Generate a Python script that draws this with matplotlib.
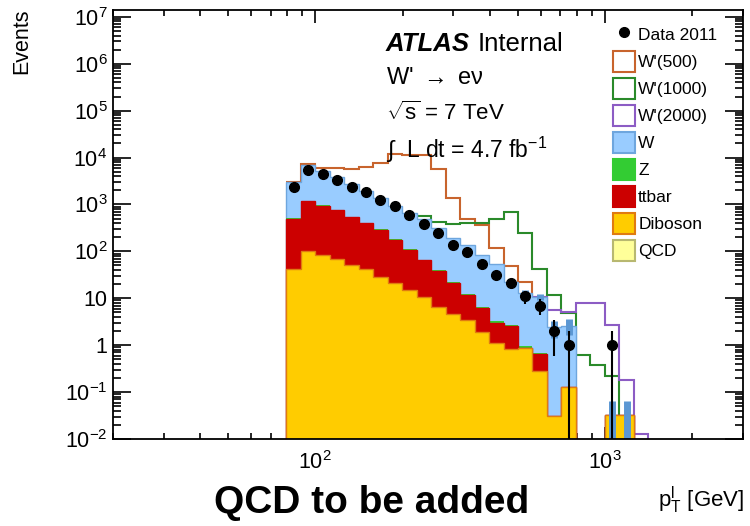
import numpy as np
import matplotlib
matplotlib.use("Agg")
import matplotlib.pyplot as plt
from matplotlib.patches import Patch
from matplotlib.lines import Line2D
from matplotlib.ticker import FixedLocator, NullFormatter, FuncFormatter

plt.rcParams["font.family"] = ["Liberation Sans", "DejaVu Sans"]
plt.rcParams["mathtext.fontset"] = "custom"
plt.rcParams["mathtext.rm"] = "Liberation Sans"
plt.rcParams["mathtext.it"] = "Liberation Sans:italic"
plt.rcParams["mathtext.bf"] = "Liberation Sans:bold"

# pT bins: 0.05 wide in log10, starting at 10^1.9 GeV
edges = 10 ** (1.9 + 0.05 * np.arange(27))

data = [2310, 5320, 4460, 3250, 2350, 1840, 1240, 906, 603, 382, 252, 136, 99,
        53, 32, 21, 11, 7, 2, 1, 0, 0, 1, 0, 0, 0]

diboson = [41.8, 103, 84.5, 68.4, 51.7, 41.8, 29.1, 21, 15.1, 10.4, 6.65, 4.58, 3.46,
           1.95, 1.10, 0.82, 0.89, 0.287, 0.031, 0.131, 0, 0, 0.0325, 0.0325, 0, 0]
ttbar = [453, 1057, 854, 677, 486, 359, 259, 156, 93, 54, 31.9, 16.9, 8.5,
         4.2, 1.9, 1.76, 0, 0.36, 0, 0, 0, 0, 0, 0, 0, 0]
zjets = [12, 28, 22, 16, 11, 8, 6, 4, 2.7, 1.9, 1.2, 0.8, 0.55,
         0.3, 0.2, 0.1, 0.05, 0.04, 0, 0, 0, 0, 0, 0, 0, 0]
wjets = [2443, 5842, 4280, 3139, 2221, 1551, 1096, 757, 554, 422, 273, 170, 125,
         78, 50.3, 19.7, 12.0, 10.2, 2.37, 2.47, 0, 0, 0, 0, 0, 0]
mc_err = [0, 0, 0, 0, 0, 0, 0, 0, 0, 0, 0, 0, 0,
          0, 0, 2.5, 1.8, 1.6, 0.95, 0.95, 0, 0, 0.033, 0.033, 0, 0]

# signal curves are drawn stacked on the SM; nan = hidden under the SM stack
nan = np.nan
wp500 = [3000, 7150, 5980, 5980, 5690, 6280, 7640, 12000, 11500, 11500, 5780, 1370, 495,
         369, 117, 49.2, 22.7, 10.5, nan, nan, nan, nan, nan, nan, nan, nan]
wp1000 = [nan, nan, nan, nan, nan, nan, nan, nan, nan, 555, 413, 387, 397,
          397, 488, 675, 249, 42.9, 11.8, 4.81, 0.62, 0.38, 0.22, 0, 0, 0]
wp2000 = [nan, nan, nan, nan, nan, nan, nan, nan, nan, nan, nan, nan, nan,
          nan, nan, nan, nan, 10.7, 5.66, 5.21, 7.87, 7.87, 2.71, 0.18, 0.0128, 0]

C_W, C_W_EDGE = "#99ccff", "#6ea6de"
C_Z = "#33cc33"
C_TT = "#cc0000"
C_DB, C_DB_EDGE = "#ffcc00", "#e07b10"
C_QCD, C_QCD_EDGE = "#ffff99", "#b8b870"
C_500, C_1000, C_2000 = "#c8642d", "#2a8a2a", "#8c5cc4"

fig = plt.figure(figsize=(7.5, 5.26), dpi=100)
ax = fig.add_axes([113 / 750, 1 - 439 / 526, 630 / 750, 429 / 526])

centers = np.sqrt(edges[:-1] * edges[1:])
c1 = np.array(diboson)
c2 = c1 + np.array(ttbar)
c3 = c2 + np.array(zjets)
c4 = c3 + np.array(wjets)
base = 1e-5

# signals first, underneath the stack
for vals, col in ((wp500, C_500), (wp1000, C_1000), (wp2000, C_2000)):
    ax.stairs(vals, edges, baseline=None, color=col, lw=1.5, zorder=1)

# stack, drawn from the top layer down like ROOT does
ax.stairs(c4, edges, baseline=base, fill=True, facecolor=C_W, edgecolor=C_W_EDGE, lw=1, zorder=2)
ax.stairs(c3, edges, baseline=base, fill=True, facecolor=C_Z, edgecolor=C_Z, lw=0, zorder=2)
ax.stairs(c2, edges, baseline=base, fill=True, facecolor=C_TT, edgecolor=C_TT, lw=1, zorder=2)
ax.stairs(c1, edges, baseline=base, fill=True, facecolor=C_DB, edgecolor=C_DB_EDGE, lw=1, zorder=2)

err = np.array(mc_err)
m = err > 0
ax.vlines(centers[m], c4[m] - err[m], c4[m] + err[m], colors="#5b97d3", lw=5, zorder=2.5)

d = np.array(data, dtype=float)
m = d > 0
ax.errorbar(centers[m], d[m], yerr=np.sqrt(d[m]), fmt="o", color="black", ms=7,
            elinewidth=1.5, capsize=0, zorder=4)

ax.set_xscale("log")
ax.set_yscale("log")
ax.set_xlim(20, 3000)
ax.set_ylim(1e-2, 1.4e7)


def ylab(v, pos):
    e = int(round(np.log10(v)))
    if e == 0:
        return "1"
    if e == 1:
        return "10"
    return r"$\mathregular{10^{%d}}$" % e


ax.xaxis.set_major_locator(FixedLocator([100, 1000]))
ax.xaxis.set_major_formatter(FuncFormatter(ylab))
ax.xaxis.set_minor_locator(FixedLocator([k * 10 ** p for p in (1, 2, 3) for k in range(2, 10)]))
ax.xaxis.set_minor_formatter(NullFormatter())
ax.yaxis.set_major_locator(FixedLocator([10.0 ** e for e in range(-2, 8)]))
ax.yaxis.set_major_formatter(FuncFormatter(ylab))
ax.yaxis.set_minor_locator(FixedLocator([k * 10.0 ** p for p in range(-2, 8) for k in range(2, 10)]))
ax.yaxis.set_minor_formatter(NullFormatter())

ax.tick_params(which="both", direction="in", top=True, right=True, labelsize=15.5, width=1.2)
ax.tick_params(axis="x", which="major", length=9, pad=9)
ax.tick_params(axis="x", which="minor", length=4.5)
ax.tick_params(axis="y", which="major", length=13, pad=4)
ax.tick_params(axis="y", which="minor", length=6)
for s in ax.spines.values():
    s.set_linewidth(1.3)

# labels and annotations
fig.text(22 / 750, 1 - 8 / 526, "Events", rotation=90, ha="center", va="top", fontsize=15.5)
fig.text(744 / 750, 1 - 500 / 526, r"p$_{\mathregular{T}}^{\mathregular{l}}$ [GeV]",
         ha="right", va="center", fontsize=16)
fig.text(372 / 750, 1 - 503 / 526, "QCD to be added", ha="center", va="center",
         fontsize=28, fontweight="bold")

fig.text(386 / 750, 1 - 44 / 526, "ATLAS", fontsize=18.5, fontweight="bold", style="italic",
         ha="left", va="center")
fig.text(478 / 750, 1 - 44 / 526, "Internal", fontsize=18.5, ha="left", va="center")
fig.text(386 / 750, 1 - 78 / 526, r"W' $\rightarrow$ e$\mathregular{\nu}$", fontsize=17,
         ha="left", va="center")
fig.text(386 / 750, 1 - 113 / 526, r"$\sqrt{\mathregular{s}}$ = 7 TeV", fontsize=16,
         ha="left", va="center")
fig.text(386 / 750, 1 - 150 / 526, r"$\int$  L dt = 4.7 fb$^{\mathregular{-1}}$", fontsize=16.5,
         ha="left", va="center")

handles = [
    Line2D([], [], marker="o", color="black", ls="none", ms=7),
    Patch(facecolor="white", edgecolor=C_500, lw=1.5),
    Patch(facecolor="white", edgecolor=C_1000, lw=1.5),
    Patch(facecolor="white", edgecolor=C_2000, lw=1.5),
    Patch(facecolor=C_W, edgecolor=C_W_EDGE, lw=1.5),
    Patch(facecolor=C_Z, edgecolor=C_Z, lw=1.5),
    Patch(facecolor=C_TT, edgecolor=C_TT, lw=1.5),
    Patch(facecolor=C_DB, edgecolor=C_DB_EDGE, lw=1.5),
    Patch(facecolor=C_QCD, edgecolor=C_QCD_EDGE, lw=1.5),
]
labels = ["Data 2011", "W'(500)", "W'(1000)", "W'(2000)", "W", "Z", "ttbar", "Diboson", "QCD"]
fig.legend(handles, labels, loc="upper left", bbox_to_anchor=(613 / 750, 1 - 24 / 526),
           bbox_transform=fig.transFigure, frameon=False, fontsize=12.5, borderpad=0,
           borderaxespad=0, handlelength=1.25, handleheight=1.45, handletextpad=0.2,
           labelspacing=0.37)

fig.savefig("out.png", dpi=100, facecolor="white")
